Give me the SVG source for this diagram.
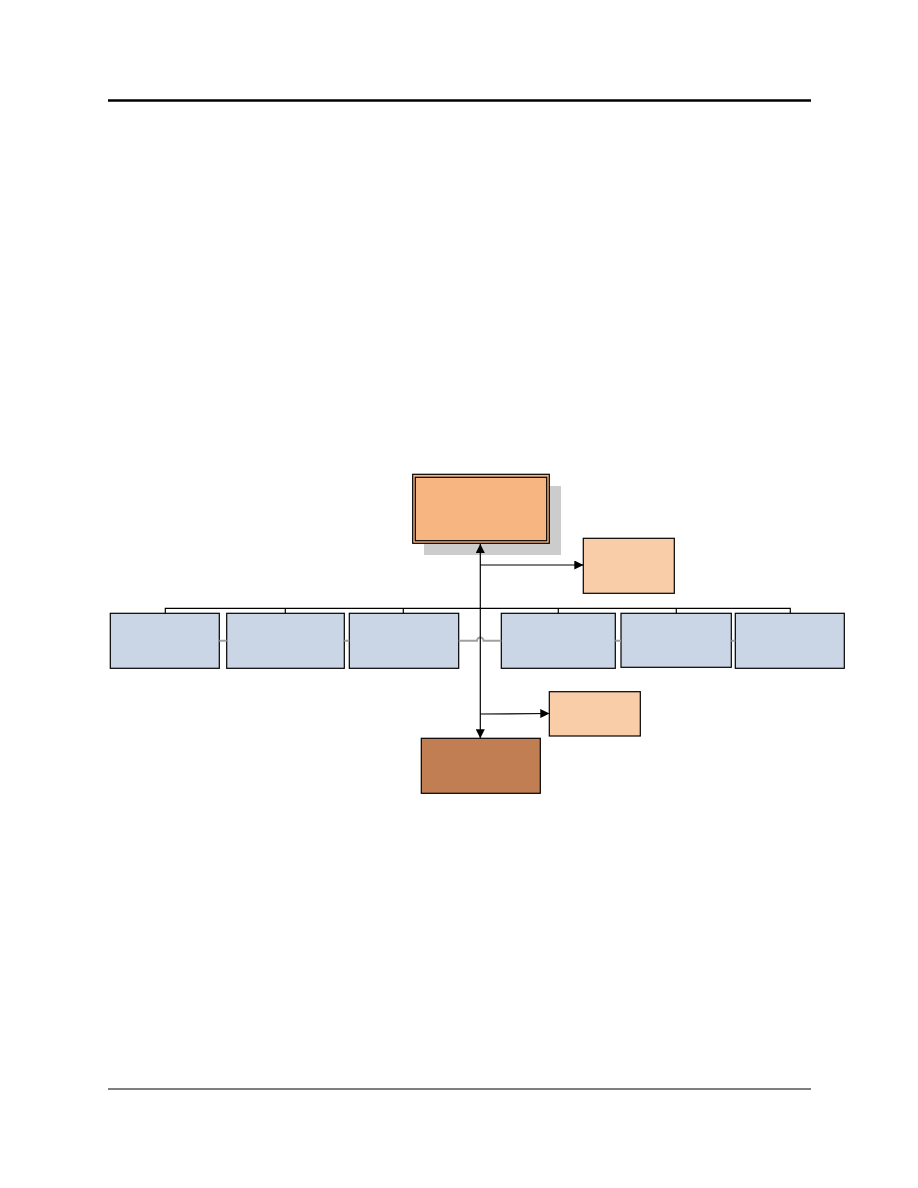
<svg xmlns="http://www.w3.org/2000/svg" width="918" height="1188" viewBox="0 0 918 1188">
<style>
.box{stroke:#000;stroke-width:1.2}
.blue{fill:#cad6e6}
.peach{fill:#f9cda8}
.ln{fill:none;stroke:#000;stroke-width:1.2}
.gray{fill:none;stroke:#a0a0a0;stroke-width:2}
</style>
<defs>
<marker id="ah" viewBox="0 0 10 10" refX="10" refY="5" markerWidth="9" markerHeight="9" markerUnits="userSpaceOnUse" orient="auto">
<path d="M0,0 L10,5 L0,10 z" fill="#000"/>
</marker>
</defs>
<rect x="0" y="0" width="918" height="1188" fill="#fff"/>
<line x1="108" y1="100.5" x2="811" y2="100.5" stroke="#000" stroke-width="2.5"/>
<line x1="108" y1="1089" x2="811" y2="1089" stroke="#000" stroke-width="1"/>
<g id="top">
<rect x="424" y="486" width="137" height="69" fill="#cccccc"/>
<rect class="box" x="412.7" y="474.3" width="136.6" height="69" fill="#f7b681"/>
<rect x="415.3" y="477.3" width="131.4" height="63.4" fill="none" stroke="#000" stroke-width="1.2"/>
</g>
<g id="right1"><rect class="box peach" x="583.3" y="538.3" width="91" height="55"/></g>
<g id="b1"><rect class="box blue" x="110.3" y="613.3" width="109" height="55"/></g>
<g id="b2"><rect class="box blue" x="226.7" y="613.3" width="117.6" height="55"/></g>
<g id="b3"><rect class="box blue" x="349.3" y="613.3" width="109.4" height="55"/></g>
<g id="b4"><rect class="box blue" x="501.3" y="613.3" width="114" height="55"/></g>
<g id="b5"><rect class="box blue" x="621" y="613.3" width="110.3" height="54"/></g>
<g id="b6"><rect class="box blue" x="735.3" y="613.3" width="109" height="55"/></g>
<g id="right2"><rect class="box peach" x="549.3" y="691.7" width="91" height="44.3"/></g>
<g id="bottom"><rect class="box" x="421.3" y="738.3" width="119" height="55" fill="#c17e52"/></g>
<g id="connectors">
<path class="gray" d="M219.3,640.7 H226.7 M344.3,640.7 H349.3 M458.7,640.7 H477 A3.3,3.3 0 0 1 483.6,640.7 H501.3 M615.3,640.7 H621 M731.3,640.7 H735.3"/>
<path class="ln" d="M165.3,613.3 V608.3 H790.3 V613.3 M285.3,608.3 V613.3 M403.3,608.3 V613.3 M558.3,608.3 V613.3 M676.3,608.3 V613.3"/>
<line class="ln" x1="480.3" y1="600" x2="480.3" y2="544" marker-end="url(#ah)"/>
<line class="ln" x1="480.3" y1="600" x2="480.3" y2="738.3" marker-end="url(#ah)"/>
<line class="ln" x1="480.3" y1="565" x2="583.3" y2="565" marker-end="url(#ah)"/>
<line class="ln" x1="480.3" y1="714" x2="549.3" y2="713.5" marker-end="url(#ah)"/>
</g>
</svg>
